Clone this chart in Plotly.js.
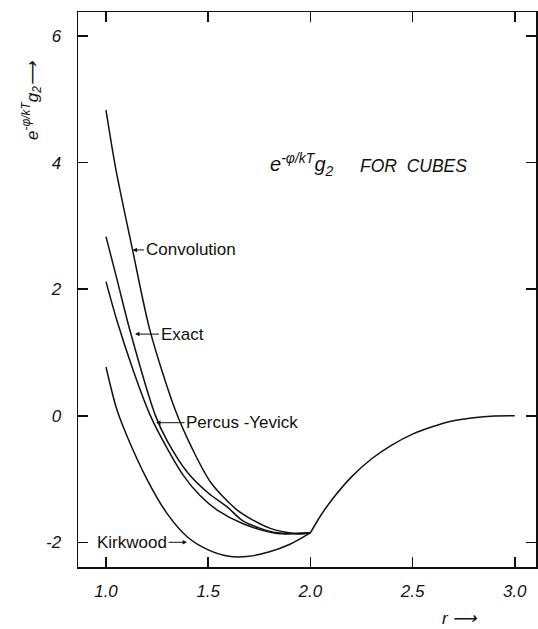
<!DOCTYPE html>
<html>
<head>
<meta charset="utf-8">
<script src="https://cdn.plot.ly/plotly-3.0.1.min.js"></script>
<style>html,body{margin:0;padding:0;background:#fff;}#chart{width:538px;height:629px;}</style>
</head>
<body>
<div id="chart"></div>
<script>
// Data
const rConv  = [1.0, 1.049, 1.130, 1.215, 1.339, 1.425, 1.512, 1.642, 1.804, 1.95, 2.0];
const gConv  = [4.83, 3.88, 2.62, 1.35, 0.09, -0.54, -1.05, -1.49, -1.78, -1.87, -1.85];
const rExact = [1.0, 1.055, 1.117, 1.241, 1.30, 1.40, 1.50, 1.593, 1.674, 1.837, 2.0];
const gExact = [2.83, 2.14, 1.35, 0.01, -0.40, -0.90, -1.22, -1.44, -1.67, -1.85, -1.85];
const rPY    = [1.0, 1.053, 1.135, 1.216, 1.30, 1.38, 1.46, 1.544, 1.674, 1.837, 2.0];
const gPY    = [2.12, 1.51, 0.70, 0.01, -0.52, -0.95, -1.26, -1.49, -1.71, -1.86, -1.85];
const rKirk  = [1.0, 1.05, 1.10, 1.20, 1.30, 1.40, 1.50, 1.60, 1.70, 1.80, 1.90, 2.0];
const gKirk  = [0.77, 0.13, -0.30, -1.00, -1.55, -1.92, -2.12, -2.22, -2.22, -2.15, -2.03, -1.85];
const rTail  = [2.0, 2.05, 2.10, 2.20, 2.30, 2.40, 2.50, 2.60, 2.70, 2.80, 2.90, 3.0];
const gTail  = [-1.85, -1.58, -1.35, -0.97, -0.68, -0.46, -0.29, -0.17, -0.08, -0.03, -0.005, 0.0];

const curveNames = ["Convolution", "Exact", "Percus -Yevick", "Kirkwood"];
const labelTips = [[1.13, 2.62], [1.142, 1.29], [1.245, -0.11], [1.397, -2.0]];

const xTickVals = [1.0, 1.5, 2.0, 2.5, 3.0];
const xTickText = ["1.0", "1.5", "2.0", "2.5", "3.0"];
const yTickVals = [-2, 0, 2, 4, 6];
const yTickText = ["-2", "0", "2", "4", "6"];

const ink = "#111";
const lineStyle = {color: ink, width: 1.5, shape: "spline", smoothing: 0.8};
const series = [[rConv, gConv], [rExact, gExact], [rPY, gPY], [rKirk, gKirk], [rTail, gTail]];
const traces = series.map(s => ({x: s[0], y: s[1], mode: "lines", line: lineStyle, hoverinfo: "skip"}));

const fam = "Liberation Sans, Arial, sans-serif";
const labelFont = {family: fam, size: 17, color: ink};
const italicFont = {family: fam, size: 17, color: ink, style: "italic"};
const axOffsets = [58, 47, 86, -55];

const annotations = curveNames.map((name, i) => ({
  x: labelTips[i][0], y: labelTips[i][1], xref: "x", yref: "y",
  text: name, showarrow: true, ax: axOffsets[i], ay: 0,
  arrowhead: 2, arrowsize: 0.9, arrowwidth: 1, arrowcolor: ink,
  font: labelFont
}));

// chart caption, in two pieces
annotations.push({
  x: 1.793, y: 3.97, xref: "x", yref: "y", xanchor: "left", yanchor: "middle",
  text: "e<sup>-\u03c6/kT</sup>g<sub>2</sub>",
  showarrow: false, font: {family: fam, size: 20, color: ink, style: "italic"}
});
annotations.push({
  x: 2.233, y: 3.94, xref: "x", yref: "y", xanchor: "left", yanchor: "middle",
  text: "FOR\u00a0\u00a0CUBES",
  showarrow: false, font: {family: fam, size: 17.5, color: ink, style: "italic"}
});
// axis titles
annotations.push({
  x: -0.10, y: 0.84, xref: "paper", yref: "paper", xanchor: "center", yanchor: "middle",
  text: "e<sup>-\u03c6/kT</sup>g<sub>2</sub>\u27f6", textangle: -90,
  showarrow: false, font: italicFont
});
annotations.push({
  x: 0.832, y: -0.093, xref: "paper", yref: "paper", xanchor: "center", yanchor: "middle",
  text: "r \u27f6", showarrow: false, font: italicFont
});

const axisCommon = {
  ticks: "inside", ticklen: 10, tickwidth: 1.5, tickcolor: ink,
  showline: true, linewidth: 1.5, linecolor: ink, mirror: "ticks",
  showgrid: false, zeroline: false, tickfont: italicFont
};

const layout = {
  width: 538, height: 629,
  margin: {l: 78, r: 2, t: 12, b: 62},
  paper_bgcolor: "#fff", plot_bgcolor: "#fff",
  showlegend: false,
  xaxis: Object.assign({}, axisCommon, {range: [0.863, 3.104], tickmode: "array", tickvals: xTickVals, ticktext: xTickText, ticklabelstandoff: 8}),
  yaxis: Object.assign({}, axisCommon, {range: [-2.39, 6.38], tickmode: "array", tickvals: yTickVals, ticktext: yTickText, ticklabelstandoff: 12}),
  annotations: annotations
};

Plotly.newPlot("chart", traces, layout, {staticPlot: true, displayModeBar: false});
</script>
</body>
</html>
